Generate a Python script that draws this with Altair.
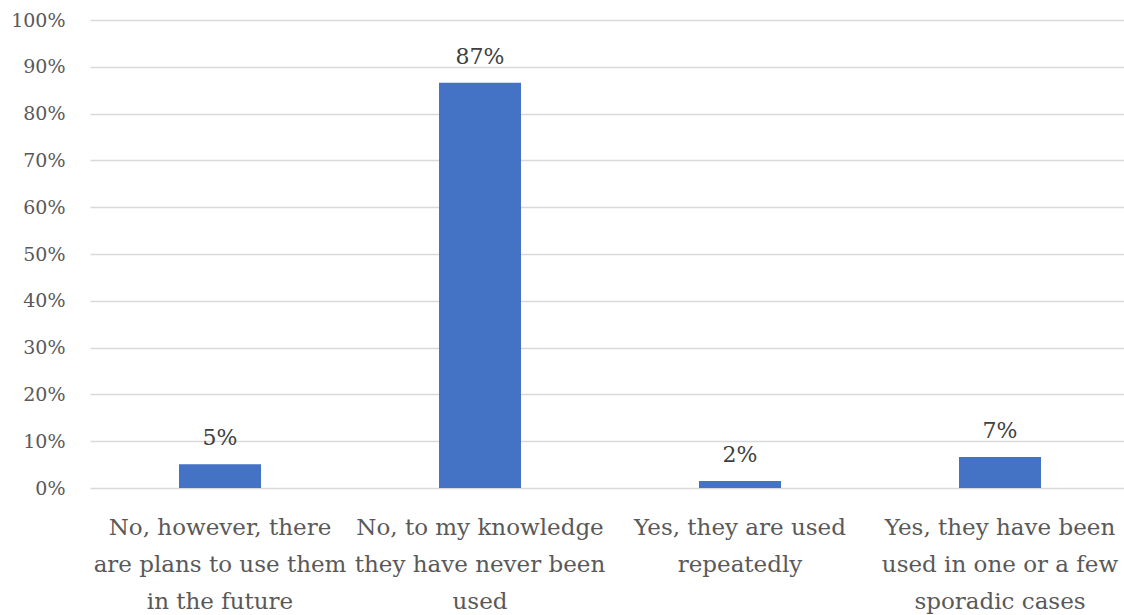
import altair as alt
import pandas as pd

categories = [
    "No, however, there|are plans to use them|in the future",
    "No, to my knowledge|they have never been|used",
    "Yes, they are used|repeatedly",
    "Yes, they have been|used in one or a few|sporadic cases",
]
values = [0.051, 0.866, 0.015, 0.066]
labels = ["5%", "87%", "2%", "7%"]

df = pd.DataFrame({"cat": categories, "val": values, "lab": labels})

FONT = "DejaVu Serif"

base = alt.Chart(df).encode(
    x=alt.X(
        "cat:N",
        sort=categories,
        scale=alt.Scale(paddingInner=0, paddingOuter=0, range=[0, 1040]),
        axis=alt.Axis(
            title=None,
            labelAngle=0,
            labelExpr="split(datum.label, '|')",
            labelFont=FONT,
            labelFontSize=23,
            labelColor="#595959",
            labelLineHeight=37,
            labelPadding=28,
            labelBaseline="top",
            ticks=False,
            domain=False,
            labelLimit=400,
        ),
    ),
    y=alt.Y(
        "val:Q",
        scale=alt.Scale(domain=[0, 1]),
        axis=alt.Axis(
            title=None,
            format=".0%",
            values=[i / 10 for i in range(11)],
            labelFont=FONT,
            labelFontSize=19,
            labelColor="#595959",
            labelPadding=25,
            ticks=False,
            domain=False,
            gridColor="#d9d9d9",
            gridWidth=1.5,
        ),
    ),
)

bars = base.mark_bar(size=82, color="#4472C4")
text = base.mark_text(
    font=FONT, fontSize=22, color="#404040", baseline="alphabetic", dy=-19
).encode(text="lab:N")

chart = (
    (bars + text)
    .properties(
        width=1034,
        height=468,
        autosize=alt.AutoSizeParams(type="none"),
        padding={"left": 90, "top": 20, "right": 0, "bottom": 127},
    )
    .configure_view(stroke=None)
)

chart.save("out.html", embed_options={"renderer": "svg", "actions": False})
